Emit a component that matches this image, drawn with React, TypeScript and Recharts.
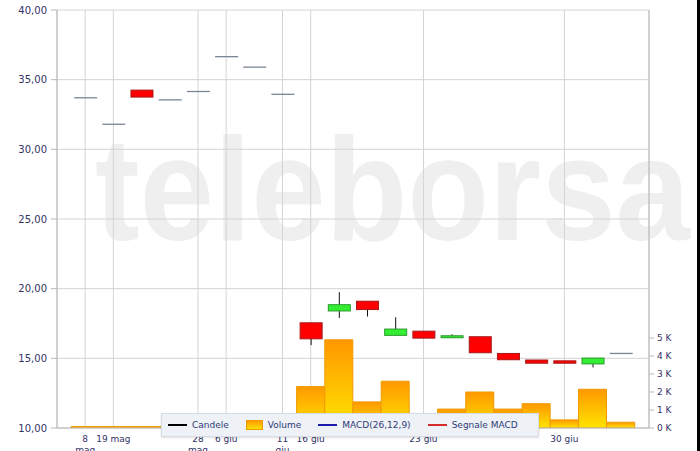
import React from "react";
import { ComposedChart, Bar, XAxis, YAxis, CartesianGrid } from "recharts";

// sedute (indice di categoria) e prezzi OHLC
const sessions = [0, 1, 2, 3, 4, 5, 6, 7, 8, 9, 10, 11, 12, 13, 14, 15, 16, 17, 18, 19];
const openP = [33.7, 31.8, 34.25, 33.55, 34.15, 36.65, 35.9, 33.95, 17.55, 18.4, 19.1, 16.65, 16.95, 16.5, 16.55, 15.35, 14.88, 14.82, 14.6, 15.35];
const highP = [33.7, 31.8, 34.25, 33.55, 34.15, 36.65, 35.9, 33.95, 17.55, 19.75, 19.1, 17.95, 16.95, 16.72, 16.55, 15.35, 14.88, 14.82, 15.02, 15.35];
const lowP = [33.7, 31.8, 33.75, 33.55, 34.15, 36.65, 35.9, 33.95, 15.95, 17.9, 18.0, 16.65, 16.45, 16.5, 15.4, 14.9, 14.65, 14.65, 14.35, 15.35];
const closeP = [33.7, 31.8, 33.75, 33.55, 34.15, 36.65, 35.9, 33.95, 16.4, 18.85, 18.5, 17.1, 16.45, 16.62, 15.4, 14.9, 14.65, 14.65, 15.02, 15.35];
// volumi in migliaia
const volumeK = [0.08, 0.08, 0.08, 0.08, 0.08, 0.08, 0.08, 0.08, 2.3, 4.9, 1.45, 2.6, 0.6, 1.05, 2.0, 1.05, 1.35, 0.45, 2.15, 0.32];

const tickIdx = [0, 1, 4, 5, 7, 8, 12, 17];
const tickLabels = ["8\nmag", "19 mag", "28\nmag", "6 giu", "11\ngiu", "16 giu", "23 giu", "30 giu"];
const priceTicks = [10, 15, 20, 25, 30, 35, 40];
const volTicks = [0, 1, 2, 3, 4, 5];

const legendItems = [
  { name: "Candele", kind: "line", color: "#000000" },
  { name: "Volume", kind: "rect", color: "#ffa500" },
  { name: "MACD(26,12,9)", kind: "line", color: "#1c1caa" },
  { name: "Segnale MACD", kind: "line", color: "#d42a2a" },
];

const data = sessions.map((i) => ({
  i,
  open: openP[i],
  high: highP[i],
  low: lowP[i],
  close: closeP[i],
  range: [lowP[i], highP[i]],
  vol: volumeK[i],
}));

const FONT = "DejaVu Sans, Verdana, sans-serif";
const TEXT = "#333366";
const GRID = "#d4d4d4";
const AXIS = "#b8b8b8";

function Candle(props: any) {
  const { x, y, width, height, payload } = props;
  if (x == null || y == null) return null;
  const y0 = Math.min(y, y + height);
  const h = Math.abs(height);
  const { open, close, high, low } = payload;
  const span = high - low;
  const py = (v: number) => (span === 0 ? y0 : y0 + ((high - v) / span) * h);
  const cx = x + width / 2;
  if (open === close) {
    return <line x1={x} x2={x + width} y1={py(open)} y2={py(open)} stroke="#7b8596" strokeWidth={1.3} />;
  }
  const up = close > open;
  const top = py(Math.max(open, close));
  const bot = py(Math.min(open, close));
  return (
    <g>
      <line x1={cx} x2={cx} y1={y0} y2={y0 + h} stroke="#111" strokeWidth={1} />
      <rect
        x={x + 0.5}
        y={top}
        width={width - 1}
        height={Math.max(bot - top, 2)}
        fill={up ? "#33ee33" : "#ff0000"}
        stroke={up ? "#2a9a2a" : "#a81818"}
        strokeWidth={1}
      />
    </g>
  );
}

function XTick(props: any) {
  const { x, y, payload } = props;
  const k = tickIdx.indexOf(payload.value);
  if (k < 0) return null;
  const lines = tickLabels[k].split("\n");
  return (
    <g>
      {lines.map((l, j) => (
        <text key={j} x={x} y={y + 6 + j * 11} textAnchor="middle" fontSize={9} fontFamily={FONT} fill={TEXT}>
          {l}
        </text>
      ))}
    </g>
  );
}

function Legend() {
  return (
    <div
      style={{
        position: "absolute",
        left: 161,
        top: 413,
        width: 378,
        height: 24,
        boxSizing: "border-box",
        background: "#eef1f6",
        border: "1px solid #d6dce6",
        boxShadow: "0 1px 2px rgba(0,0,0,0.12)",
        display: "flex",
        alignItems: "center",
        paddingLeft: 6,
        gap: 17,
        fontFamily: FONT,
        fontSize: 9,
        color: "#2e3a78",
      }}
    >
      {legendItems.map((it) => (
        <div key={it.name} style={{ display: "flex", alignItems: "center", gap: 5 }}>
          {it.kind === "line" ? (
            <div style={{ width: 19, height: 2, background: it.color }} />
          ) : (
            <div
              style={{
                width: 17,
                height: 10,
                background: "linear-gradient(#ff9a00, #ffe000)",
                border: "1px solid #f09a00",
                boxSizing: "border-box",
              }}
            />
          )}
          <span>{it.name}</span>
        </div>
      ))}
    </div>
  );
}

export default function App() {
  return (
    <div style={{ position: "fixed", left: 0, top: 0, width: 700, height: 451, background: "#000" }}>
      <div style={{ position: "relative", width: 697, height: 451, background: "#fff", overflow: "hidden" }}>
        <svg width={697} height={451} style={{ position: "absolute", left: 0, top: 0 }}>
          <text
            x={95}
            y={240}
            fontFamily="Liberation Sans, Arial, sans-serif"
            fontWeight="bold"
            fontSize={146}
            fill="#efefef"
            textLength={595}
            lengthAdjust="spacingAndGlyphs"
          >
            teleborsa
          </text>
        </svg>
        <div style={{ position: "absolute", left: 0, top: 0 }}>
          <ComposedChart width={697} height={451} data={data} margin={{ top: 10, right: 0, bottom: 0, left: 0 }}>
            <defs>
              <linearGradient id="volGrad" x1="0" y1="0" x2="0" y2="1">
                <stop offset="0%" stopColor="#ff9800" />
                <stop offset="100%" stopColor="#ffe400" />
              </linearGradient>
            </defs>
            <CartesianGrid xAxisId="main" yAxisId="price" stroke={GRID} />
            <XAxis
              xAxisId="main"
              type="number"
              dataKey="i"
              domain={[-1, 20]}
              ticks={tickIdx}
              interval={0}
              tickLine={false}
              axisLine={{ stroke: AXIS }}
              height={23}
              tick={<XTick />}
            />
            <XAxis xAxisId="vol" type="number" dataKey="i" domain={[-1, 20]} hide />
            <YAxis
              yAxisId="price"
              domain={[10, 40]}
              ticks={priceTicks}
              interval={0}
              width={57}
              tickSize={6}
              tickMargin={4}
              tickLine={{ stroke: AXIS }}
              axisLine={{ stroke: AXIS }}
              tickFormatter={(v: number) => v.toFixed(2).replace(".", ",")}
              tick={{ fontSize: 10, fontFamily: FONT, fill: TEXT }}
            />
            <YAxis
              yAxisId="vol"
              orientation="right"
              domain={[0, 23.22]}
              allowDataOverflow
              ticks={volTicks}
              interval={0}
              width={48}
              tickSize={5}
              tickMargin={3}
              tickLine={{ stroke: AXIS }}
              axisLine={{ stroke: AXIS }}
              tickFormatter={(v: number) => `${v} K`}
              tick={{ fontSize: 9, fontFamily: FONT, fill: TEXT }}
            />
            <Bar
              xAxisId="vol"
              yAxisId="vol"
              dataKey="vol"
              barSize={28}
              fill="url(#volGrad)"
              stroke="#f09a00"
              isAnimationActive={false}
            />
            <Bar
              xAxisId="main"
              yAxisId="price"
              dataKey="range"
              barSize={23}
              shape={<Candle />}
              isAnimationActive={false}
            />
          </ComposedChart>
        </div>
        <Legend />
      </div>
    </div>
  );
}
